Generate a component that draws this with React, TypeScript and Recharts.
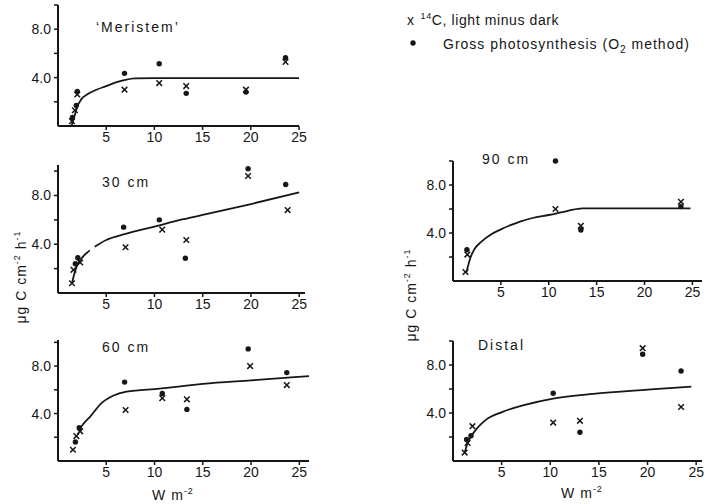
import React from 'react';
import { ComposedChart, Line, Scatter, XAxis, YAxis } from 'recharts';

const FONT = '"Liberation Sans", Arial, sans-serif';
const INK = '#161616';

const xTicks = [5, 10, 15, 20, 25];
const yTicks = [2, 4, 6, 8, 10];
const yLabelled = [4, 8];

// 'Meristem'
const meristemCross = [
  { x: 1.45, y: 0.4 }, { x: 1.75, y: 1.3 }, { x: 2.0, y: 2.6 }, { x: 6.9, y: 3.0 },
  { x: 10.5, y: 3.55 }, { x: 13.3, y: 3.3 }, { x: 19.5, y: 3.0 }, { x: 23.6, y: 5.3 },
];
const meristemDot = [
  { x: 1.5, y: 0.7 }, { x: 1.9, y: 1.7 }, { x: 2.0, y: 2.85 }, { x: 6.9, y: 4.35 },
  { x: 10.5, y: 5.15 }, { x: 13.3, y: 2.7 }, { x: 19.5, y: 2.8 }, { x: 23.6, y: 5.65 },
];
const meristemCurve = [
  { x: 1.4, y: 0 }, { x: 1.7, y: 0.8 }, { x: 2.0, y: 1.6 }, { x: 2.4, y: 2.2 }, { x: 3, y: 2.6 },
  { x: 4, y: 3.0 }, { x: 5, y: 3.3 }, { x: 6, y: 3.6 }, { x: 7, y: 3.82 }, { x: 8, y: 3.93 },
  { x: 10, y: 3.95 }, { x: 25, y: 3.95 },
];

// 30 cm
const cm30Cross = [
  { x: 1.45, y: 0.8 }, { x: 1.6, y: 1.9 }, { x: 2.3, y: 2.5 }, { x: 7.0, y: 3.75 },
  { x: 10.8, y: 5.2 }, { x: 13.3, y: 4.35 }, { x: 19.7, y: 9.6 }, { x: 23.8, y: 6.8 },
];
const cm30Dot = [
  { x: 1.8, y: 2.4 }, { x: 2.05, y: 2.9 }, { x: 6.8, y: 5.4 }, { x: 10.5, y: 6.0 },
  { x: 13.2, y: 2.85 }, { x: 19.7, y: 10.2 }, { x: 23.6, y: 8.9 },
];
const cm30Curve = [
  { x: 1.45, y: 0.8 }, { x: 1.7, y: 1.6 }, { x: 2.0, y: 2.3 }, { x: 2.5, y: 2.9 }, { x: 3.0, y: 3.3 },
  { x: 3.3, y: 3.5 }, { x: 3.5, y: null }, { x: 3.8, y: 3.8 }, { x: 5, y: 4.35 }, { x: 7, y: 4.85 },
  { x: 10, y: 5.45 }, { x: 13, y: 6.05 }, { x: 15, y: 6.4 }, { x: 20, y: 7.3 }, { x: 25, y: 8.25 },
];

// 60 cm
const cm60Cross = [
  { x: 1.55, y: 0.95 }, { x: 1.9, y: 2.1 }, { x: 2.3, y: 2.5 }, { x: 7.0, y: 4.3 },
  { x: 10.8, y: 5.3 }, { x: 13.35, y: 5.2 }, { x: 19.9, y: 8.0 }, { x: 23.7, y: 6.4 },
];
const cm60Dot = [
  { x: 1.8, y: 1.6 }, { x: 2.2, y: 2.8 }, { x: 6.9, y: 6.65 }, { x: 10.8, y: 5.7 },
  { x: 13.35, y: 4.35 }, { x: 19.7, y: 9.45 }, { x: 23.7, y: 7.45 },
];
const cm60Curve = [
  { x: 2.1, y: 2.5 }, { x: 2.6, y: 3.1 }, { x: 3.4, y: 3.8 }, { x: 4.4, y: 4.8 }, { x: 5.7, y: 5.5 },
  { x: 7.1, y: 5.85 }, { x: 10.5, y: 6.1 }, { x: 13.3, y: 6.35 }, { x: 15, y: 6.5 }, { x: 20, y: 6.8 },
  { x: 26, y: 7.15 },
];

// 90 cm
const cm90Cross = [
  { x: 1.3, y: 0.75 }, { x: 1.5, y: 2.2 }, { x: 10.7, y: 6.0 }, { x: 13.35, y: 4.6 }, { x: 23.8, y: 6.6 },
];
const cm90Dot = [
  { x: 1.45, y: 2.6 }, { x: 10.7, y: 10.0 }, { x: 13.35, y: 4.25 }, { x: 23.8, y: 6.2 },
];
const cm90Curve = [
  { x: 1.4, y: 0.7 }, { x: 1.8, y: 1.9 }, { x: 2.2, y: 2.6 }, { x: 3, y: 3.3 }, { x: 4, y: 3.9 },
  { x: 5, y: 4.3 }, { x: 6, y: 4.65 }, { x: 7, y: 4.95 }, { x: 8.3, y: 5.25 }, { x: 10, y: 5.5 },
  { x: 12, y: 5.85 }, { x: 13.5, y: 6.05 }, { x: 15, y: 6.05 }, { x: 20, y: 6.05 }, { x: 24.8, y: 6.05 },
];

// Distal
const distalCross = [
  { x: 1.2, y: 0.7 }, { x: 1.5, y: 1.5 }, { x: 2.0, y: 2.9 }, { x: 10.3, y: 3.2 },
  { x: 13.05, y: 3.35 }, { x: 19.5, y: 9.4 }, { x: 23.45, y: 4.5 },
];
const distalDot = [
  { x: 1.4, y: 1.8 }, { x: 1.85, y: 2.1 }, { x: 10.3, y: 5.65 }, { x: 13.05, y: 2.4 },
  { x: 19.5, y: 8.9 }, { x: 23.45, y: 7.5 },
];
const distalCurve = [
  { x: 1.2, y: 0.7 }, { x: 1.5, y: 1.5 }, { x: 1.9, y: 2.1 }, { x: 2.5, y: 2.75 }, { x: 3.4, y: 3.45 },
  { x: 5.1, y: 4.1 }, { x: 7.5, y: 4.7 }, { x: 10.3, y: 5.2 }, { x: 14.4, y: 5.6 }, { x: 20, y: 5.95 },
  { x: 24.5, y: 6.2 },
];

const CrossShape = (p: any) => {
  const { cx, cy } = p;
  if (cx == null || cy == null) return null;
  const s = 2.8;
  return (
    <path
      d={`M${cx - s},${cy - s}L${cx + s},${cy + s}M${cx - s},${cy + s}L${cx + s},${cy - s}`}
      stroke={INK}
      strokeWidth={1.5}
      fill="none"
    />
  );
};

const DotShape = (p: any) => {
  const { cx, cy } = p;
  if (cx == null || cy == null) return null;
  return <circle cx={cx} cy={cy} r={2.7} fill={INK} />;
};

const fmtY = (v: number) => (yLabelled.includes(v) ? v.toFixed(1) : '');

type PanelProps = {
  left: number; top: number; right: number; bottom: number;
  xMax: number; yMax: number;
  crosses: any[]; dots: any[]; curve: any[];
};

function Panel({ left, top, right, bottom, xMax, yMax, crosses, dots, curve }: PanelProps) {
  const YW = 40;
  const M = 10;
  const XH = 26;
  const width = YW + (right - left) + M;
  const height = M + (bottom - top) + XH;
  const tickStyle = { fill: INK, fontSize: 14, fontFamily: FONT };
  return (
    <div style={{ position: 'absolute', left: left - YW, top: top - M }}>
      <ComposedChart width={width} height={height} margin={{ top: M, right: M, bottom: 0, left: 0 }}>
        <XAxis
          type="number"
          dataKey="x"
          domain={[0, xMax]}
          ticks={xTicks}
          height={XH}
          axisLine={{ stroke: INK, strokeWidth: 2 }}
          tickLine={{ stroke: INK, strokeWidth: 1.5 }}
          tickSize={4}
          tickMargin={2}
          tick={tickStyle}
        />
        <YAxis
          type="number"
          dataKey="y"
          domain={[0, yMax]}
          ticks={yTicks}
          width={YW}
          axisLine={{ stroke: INK, strokeWidth: 2 }}
          tickLine={{ stroke: INK, strokeWidth: 1.5 }}
          tickSize={4}
          tickMargin={3}
          tick={tickStyle}
          tickFormatter={fmtY}
        />
        <Line
          data={curve}
          dataKey="y"
          type="monotone"
          dot={false}
          activeDot={false}
          stroke={INK}
          strokeWidth={1.8}
          connectNulls={false}
          isAnimationActive={false}
        />
        <Scatter data={crosses} shape={<CrossShape />} isAnimationActive={false} />
        <Scatter data={dots} shape={<DotShape />} isAnimationActive={false} />
      </ComposedChart>
    </div>
  );
}

const textBase: React.CSSProperties = {
  position: 'absolute',
  fontFamily: FONT,
  fontSize: 14,
  color: INK,
  whiteSpace: 'nowrap',
  lineHeight: '16px',
};

function T({ x, y, children, ls = 2, size = 14 }: any) {
  return (
    <div style={{ ...textBase, left: x, top: y - 8, letterSpacing: ls, fontSize: size }}>{children}</div>
  );
}

function VLabel({ cx, cy }: { cx: number; cy: number }) {
  return (
    <div
      style={{
        ...textBase,
        left: cx - 60,
        top: cy - 8,
        width: 120,
        textAlign: 'center',
        transform: 'rotate(-90deg)',
        letterSpacing: 1,
      }}
    >
      μg C cm<sup style={{ fontSize: 9, verticalAlign: 'super', lineHeight: 0 }}>-2</sup> h<sup style={{ fontSize: 9, verticalAlign: 'super', lineHeight: 0 }}>-1</sup>
    </div>
  );
}

function XLabel({ cx, cy }: { cx: number; cy: number }) {
  return (
    <div style={{ ...textBase, left: cx - 40, top: cy - 8, width: 80, textAlign: 'center', letterSpacing: 1 }}>
      W m<sup style={{ fontSize: 9, verticalAlign: 'super', lineHeight: 0 }}>-2</sup>
    </div>
  );
}

export default function App() {
  return (
    <div style={{ position: 'absolute', left: 0, top: 0, width: 715, height: 504, background: '#fff', overflow: 'hidden' }}>
      <style>{`.recharts-surface{overflow:visible}`}</style>
      <Panel left={58} top={5} right={299} bottom={126} xMax={25} yMax={10}
        crosses={meristemCross} dots={meristemDot} curve={meristemCurve} />
      <Panel left={58} top={165} right={305} bottom={293} xMax={25.6} yMax={10.5}
        crosses={cm30Cross} dots={cm30Dot} curve={cm30Curve} />
      <Panel left={58} top={340} right={309} bottom={461} xMax={26} yMax={10.2}
        crosses={cm60Cross} dots={cm60Dot} curve={cm60Curve} />
      <Panel left={453} top={161} right={702} bottom={281} xMax={26} yMax={10}
        crosses={cm90Cross} dots={cm90Dot} curve={cm90Curve} />
      <Panel left={453} top={341} right={702} bottom={461} xMax={25.6} yMax={10}
        crosses={distalCross} dots={distalDot} curve={distalCurve} />

      <T x={96} y={27}>‘Meristem’</T>
      <T x={102} y={182}>30 cm</T>
      <T x={102} y={347}>60 cm</T>
      <T x={482} y={159}>90 cm</T>
      <T x={478} y={345}>Distal</T>

      <VLabel cx={21} cy={277} />
      <VLabel cx={411} cy={295} />
      <XLabel cx={173} cy={495} />
      <XLabel cx={582} cy={493} />

      <div style={{ ...textBase, left: 407, top: 12, letterSpacing: 0.6 }}>
        x<span style={{ marginLeft: 6 }} />
        <sup style={{ fontSize: 9, verticalAlign: 'super', lineHeight: 0 }}>14</sup>C, light minus dark
      </div>
      <svg style={{ position: 'absolute', left: 0, top: 0, overflow: 'visible' }} width={1} height={1}>
        <circle cx={413} cy={43} r={2.7} fill={INK} />
      </svg>
      <div style={{ ...textBase, left: 443, top: 36, letterSpacing: 1 }}>
        Gross photosynthesis (O<sub style={{ fontSize: 10, verticalAlign: 'sub', lineHeight: 0 }}>2</sub> method)
      </div>
    </div>
  );
}
